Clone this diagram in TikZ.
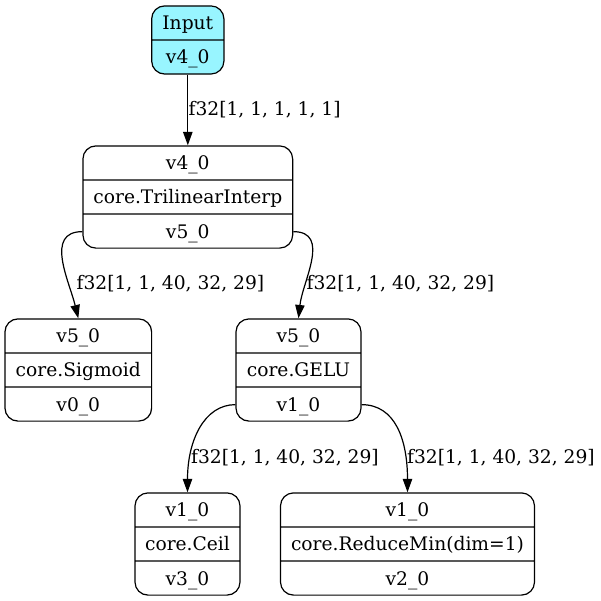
\documentclass[tikz,border=0pt]{standalone}
\usepackage{fontspec}
\setmainfont{DejaVu Serif}
\usetikzlibrary{arrows.meta}
\usetikzlibrary{shapes.multipart}
\tikzset{rec/.style = {draw, rectangle split, rectangle split parts=3,
                       rounded corners=9.75pt, inner sep=0pt, anchor=north}}
\tikzset{flow/.style = {-{Triangle[length=10pt, width=7pt]}}}
\tikzset{lbl/.style = {anchor=west, inner sep=0pt}}
\definecolor{mcyan}{RGB}{152, 245, 255}
\newcommand{\rowstrut}{\rule[-7.1pt]{0pt}{24.65pt}}

\begin{document}
\begin{tikzpicture}[x=0.75pt, y=-0.75pt, line width=0.9pt, font=\fontsize{14}{16}\selectfont]
    \useasboundingbox (0, 0) rectangle (601, 601);

    \node [rec, rectangle split parts=2, fill=mcyan, minimum width=54.2pt] (input) at (187.8, 5.3)
        {\rowstrut Input\nodepart{two}\rowstrut v4\_0};
    \node [rec, minimum width=157.3pt] (tri) at (187.8, 145.3)
        {\rowstrut v4\_0\nodepart{two}\rowstrut core.TrilinearInterp\nodepart{three}\rowstrut v5\_0};
    \node [rec, minimum width=110pt] (sig) at (78.3, 318.3)
        {\rowstrut v5\_0\nodepart{two}\rowstrut core.Sigmoid\nodepart{three}\rowstrut v0\_0};
    \node [rec, minimum width=93.75pt] (gelu) at (298.5, 318.3)
        {\rowstrut v5\_0\nodepart{two}\rowstrut core.GELU\nodepart{three}\rowstrut v1\_0};
    \node [rec, minimum width=78.75pt] (ceil) at (187.5, 492.3)
        {\rowstrut v1\_0\nodepart{two}\rowstrut core.Ceil\nodepart{three}\rowstrut v3\_0};
    \node [rec, minimum width=190.5pt] (rmin) at (407.5, 492.3)
        {\rowstrut v1\_0\nodepart{two}\rowstrut core.ReduceMin(dim=1)\nodepart{three}\rowstrut v2\_0};

    \draw [flow] (input.south) -- (tri.north);
    \draw [flow] ([yshift=12.8pt] tri.south west) .. controls +(-38, 0) and +(-9, -37) .. (sig.north);
    \draw [flow] ([yshift=12.8pt] tri.south east) .. controls +(38, 0) and +(4, -37) .. (gelu.north);
    \draw [flow] ([yshift=12.8pt] gelu.south west) .. controls +(-31, 0) and +(0, -52) .. (ceil.north);
    \draw [flow] ([yshift=12.8pt] gelu.south east) .. controls +(34, 0) and +(0, -52) .. (rmin.north);

    \node [lbl] (l1) at (188, 110) {f32[1, 1, 1, 1, 1]};
    \node [lbl] (l2) at (76, 283.3) {f32[1, 1, 40, 32, 29]};
    \node [lbl] (l3) at (306, 283.3) {f32[1, 1, 40, 32, 29]};
    \node [lbl] (l4) at (190.5, 457.7) {f32[1, 1, 40, 32, 29]};
    \node [lbl] (l5) at (406.5, 457.7) {f32[1, 1, 40, 32, 29]};
\end{tikzpicture}
\end{document}
